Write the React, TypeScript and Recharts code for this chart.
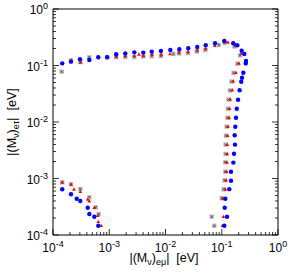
import { Scatter, ScatterChart, XAxis, YAxis } from "recharts";

// [|(M)_eμ|, |(M)_eτ|] in eV
const blueUpper: [number, number][] = [
  [1.46e-4, 0.109], [2.09e-4, 0.117], [3.02e-4, 0.129], [4.42e-4, 0.125],
  [6.38e-4, 0.14], [9.2e-4, 0.14], [1.33e-3, 0.158], [1.93e-3, 0.164],
  [2.79e-3, 0.171], [4.03e-3, 0.169], [5.69e-3, 0.176], [8.3e-3, 0.181],
  [1.22e-2, 0.188], [1.76e-2, 0.194], [2.54e-2, 0.202], [3.67e-2, 0.212],
  [5.19e-2, 0.228], [7.59e-2, 0.247], [0.111, 0.271], [0.16, 0.247],
  [0.189, 0.228], [0.226, 0.183], [0.252, 0.16], [0.27, 0.12],
  [0.267, 0.109], [0.242, 0.0746], [0.229, 0.0608], [0.222, 0.0517],
  [0.208, 0.0364], [0.195, 0.0248], [0.185, 0.0172], [0.179, 0.0119],
  [0.174, 0.00826], [0.17, 0.00582], [0.172, 0.00397], [0.165, 0.00275],
  [0.161, 0.00191], [0.146, 0.00132], [0.146, 9.1e-4], [0.136, 6.48e-4],
  [0.116, 4.39e-4], [0.113, 3.04e-4], [0.124, 2.11e-4], [0.111, 1.46e-4],
];
const blueLower: [number, number][] = [
  [1.46e-4, 6.44e-4], [2.09e-4, 5.25e-4], [2.64e-4, 4.39e-4], [3.06e-4, 4.0e-4],
  [4.14e-4, 3.04e-4], [4.42e-4, 2.35e-4], [5.42e-4, 2.11e-4], [6.38e-4, 1.46e-4],
];

const redUpper: [number, number][] = [
  [2.09e-4, 0.125], [3.1e-4, 0.114], [6.38e-4, 0.143], [9.2e-4, 0.143],
  [1.33e-3, 0.143], [1.93e-3, 0.149], [2.79e-3, 0.149], [3.38e-3, 0.158],
  [4.03e-3, 0.149], [5.75e-3, 0.158], [8.41e-3, 0.158], [1.2e-2, 0.16],
  [1.74e-2, 0.171], [2.51e-2, 0.176], [3.67e-2, 0.188], [5.19e-2, 0.202],
  [7.5e-2, 0.224], [0.116, 0.264], [0.129, 0.257], [0.174, 0.231],
  [0.223, 0.164], [0.203, 0.109], [0.179, 0.0746], [0.16, 0.0525],
  [0.154, 0.0368], [0.142, 0.0252], [0.138, 0.0172], [0.135, 0.0119],
  [0.129, 0.00826], [0.128, 0.00573], [0.126, 0.00397], [0.126, 0.00272],
  [0.124, 0.00194], [0.122, 0.00132], [0.12, 9.3e-4], [0.116, 6.44e-4],
  [0.104, 4.47e-4], [0.107, 2.11e-4], [0.102, 1.46e-4],
];
const redLower: [number, number][] = [
  [1.46e-4, 8.57e-4], [2.09e-4, 7.89e-4], [2.36e-4, 6.44e-4], [3.06e-4, 5.84e-4],
  [4.14e-4, 4.28e-4], [4.42e-4, 4.0e-4], [5.42e-4, 3.04e-4], [6.24e-4, 2.2e-4],
  [6.38e-4, 1.72e-4], [7.23e-4, 1.46e-4],
];

const grayUpper: [number, number][] = [
  [1.43e-4, 0.0777], [2.09e-4, 0.123], [3.06e-4, 0.115], [4.42e-4, 0.14],
  [9.2e-4, 0.14], [1.33e-3, 0.14], [1.93e-3, 0.141], [2.79e-3, 0.141],
  [4.03e-3, 0.144], [5.69e-3, 0.146], [8.3e-3, 0.147], [1.38e-2, 0.16],
  [1.74e-2, 0.163], [2.51e-2, 0.166], [3.6e-2, 0.177], [5.1e-2, 0.188],
  [8.83e-2, 0.231], [0.112, 0.25], [0.168, 0.217], [0.211, 0.151],
  [0.19, 0.108], [0.162, 0.0738], [0.149, 0.052], [0.14, 0.0362],
  [0.132, 0.0249], [0.129, 0.0172], [0.126, 0.0119], [0.122, 0.00826],
  [0.119, 0.00573], [0.117, 0.00397], [0.117, 0.00272], [0.115, 0.00194],
  [0.115, 0.00132], [0.112, 9.3e-4], [0.108, 6.44e-4], [0.1, 4.47e-4],
  [6.62e-2, 2.11e-4], [7.38e-2, 1.46e-4],
];
const grayLower: [number, number][] = [
  [1.46e-4, 8.57e-4], [2.09e-4, 7.89e-4], [3.06e-4, 6.52e-4], [4.42e-4, 4.65e-4],
  [5.74e-4, 3.09e-4], [6.49e-4, 2.35e-4],
];

const majorTicks = [1e-4, 1e-3, 1e-2, 1e-1, 1];
const majorLabels = ["-4", "-3", "-2", "-1", "0"];
const minorSteps = [2, 3, 4, 5, 6, 7, 8, 9];

const allTicks = [
  ...majorTicks,
  ...majorTicks.slice(0, -1).flatMap((m) => minorSteps.map((s) => m * s)),
];
const domain: [number, number] = [1e-4, 1];

const toPoints = (rows: [number, number][]) => rows.map(([x, y]) => ({ x, y }));
const blueData = toPoints([...blueUpper, ...blueLower]);
const redData = toPoints([...redUpper, ...redLower]);
const grayData = toPoints([...grayUpper, ...grayLower]);

const FONT = "'Liberation Sans', Arial, sans-serif";

function majorIndex(v: number) {
  return majorTicks.findIndex((m) => Math.abs(m - v) / m < 1e-6);
}

function Pow({ x, y, exp, anchor }: { x: number; y: number; exp: string; anchor: "middle" | "end" }) {
  return (
    <text x={x} y={y} textAnchor={anchor} fontSize={12} fontFamily={FONT} fill="#000">
      10
      <tspan dy={-5} fontSize={9}>
        {exp}
      </tspan>
    </text>
  );
}

function BottomTick(props: any) {
  const { x, y, payload } = props;
  const i = majorIndex(payload.value);
  const len = i >= 0 ? 6 : 3;
  return (
    <g>
      <line x1={x} x2={x} y1={y} y2={y - len} stroke="#000" strokeWidth={0.8} />
      {i >= 0 && <Pow x={x} y={y + 17} exp={majorLabels[i]} anchor="middle" />}
    </g>
  );
}

function TopTick(props: any) {
  const { x, y, payload } = props;
  const len = majorIndex(payload.value) >= 0 ? 6 : 3;
  return <line x1={x} x2={x} y1={y} y2={y + len} stroke="#000" strokeWidth={0.8} />;
}

function LeftTick(props: any) {
  const { x, y, payload } = props;
  const i = majorIndex(payload.value);
  const len = i >= 0 ? 6 : 3;
  return (
    <g>
      <line x1={x} x2={x + len} y1={y} y2={y} stroke="#000" strokeWidth={0.8} />
      {i >= 0 && <Pow x={x - 5} y={y + 5} exp={majorLabels[i]} anchor="end" />}
    </g>
  );
}

function RightTick(props: any) {
  const { x, y, payload } = props;
  const len = majorIndex(payload.value) >= 0 ? 6 : 3;
  return <line x1={x} x2={x - len} y1={y} y2={y} stroke="#000" strokeWidth={0.8} />;
}

const BlueDot = (p: any) => <circle cx={p.cx} cy={p.cy} r={2.2} fill="#0000ff" />;

const RedMark = (p: any) => (
  <polygon
    points={`${p.cx},${p.cy - 2} ${p.cx - 1.8},${p.cy + 1.4} ${p.cx + 1.8},${p.cy + 1.4}`}
    fill="#ff0000"
  />
);

const GrayMark = (p: any) => (
  <g>
    <rect x={p.cx - 2.2} y={p.cy - 2.2} width={4.4} height={4.4} fill="#bdbdbd" />
    <path
      d={`M${p.cx - 1.2},${p.cy - 1.2}L${p.cx + 1.2},${p.cy + 1.2}M${p.cx - 1.2},${p.cy + 1.2}L${p.cx + 1.2},${p.cy - 1.2}`}
      stroke="#333"
      strokeWidth={0.7}
    />
  </g>
);

export default function App() {
  return (
    <div style={{ position: "absolute", left: 0, top: 0, width: 289, height: 275, background: "#fff" }}>
      <ScatterChart width={289} height={275} margin={{ top: 0, right: 0, bottom: 0, left: 0 }}>
        <XAxis
          dataKey="x"
          type="number"
          scale="log"
          domain={domain}
          allowDataOverflow
          ticks={allTicks}
          interval={0}
          tickSize={0}
          tickMargin={0}
          tick={BottomTick}
          height={40}
          stroke="#000"
        />
        <XAxis
          xAxisId="t"
          orientation="top"
          type="number"
          scale="log"
          domain={domain}
          allowDataOverflow
          ticks={allTicks}
          interval={0}
          tickSize={0}
          tickMargin={0}
          tick={TopTick}
          height={9}
          stroke="#000"
        />
        <YAxis
          dataKey="y"
          type="number"
          scale="log"
          domain={domain}
          allowDataOverflow
          ticks={allTicks}
          interval={0}
          tickSize={0}
          tickMargin={0}
          tick={LeftTick}
          width={53}
          stroke="#000"
        />
        <YAxis
          yAxisId="r"
          orientation="right"
          type="number"
          scale="log"
          domain={domain}
          allowDataOverflow
          ticks={allTicks}
          interval={0}
          tickSize={0}
          tickMargin={0}
          tick={RightTick}
          width={11}
          stroke="#000"
        />
        <Scatter data={grayData} shape={GrayMark} isAnimationActive={false} />
        <Scatter data={redData} shape={RedMark} isAnimationActive={false} />
        <Scatter data={blueData} shape={BlueDot} isAnimationActive={false} />
      </ScatterChart>
      <svg
        width={289}
        height={275}
        style={{ position: "absolute", left: 0, top: 0, pointerEvents: "none" }}
        fontFamily={FONT}
      >
        <text x={164} y={262} textAnchor="middle" fontSize={12.5} fill="#000" style={{ whiteSpace: "pre" }}>
          {"|(M"}
          <tspan dy={3} fontSize={9}>ν</tspan>
          <tspan dy={-3}>)</tspan>
          <tspan dy={3} fontSize={9}>eμ</tspan>
          <tspan dy={-3}>{"|  [eV]"}</tspan>
        </text>
        <text
          transform="translate(16,122) rotate(-90)"
          textAnchor="middle"
          fontSize={12.5}
          fill="#000"
          style={{ whiteSpace: "pre" }}
        >
          {"|(M"}
          <tspan dy={3} fontSize={9}>ν</tspan>
          <tspan dy={-3}>)</tspan>
          <tspan dy={3} fontSize={9}>eτ</tspan>
          <tspan dy={-3}>{"|  [eV]"}</tspan>
        </text>
      </svg>
    </div>
  );
}
